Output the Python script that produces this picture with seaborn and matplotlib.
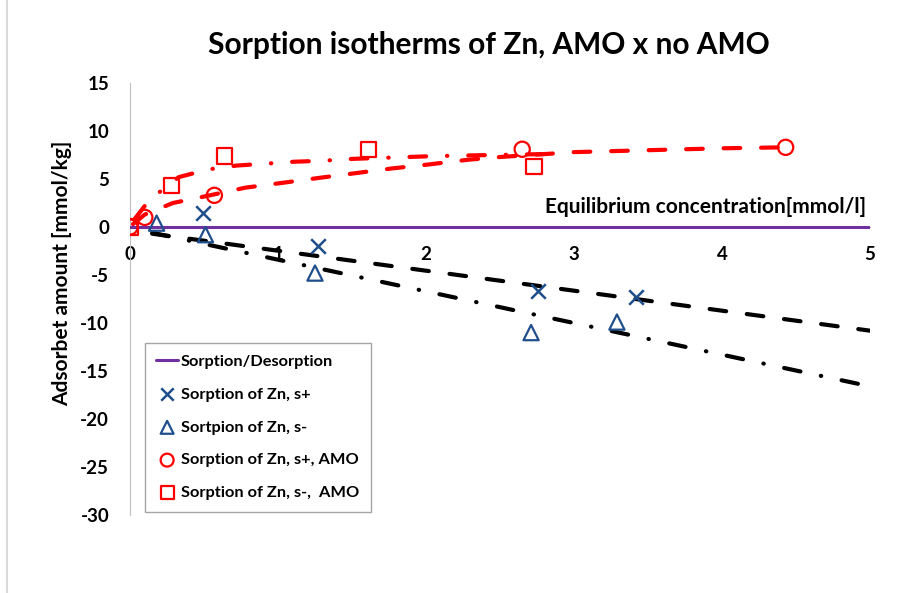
import matplotlib
matplotlib.use('Agg')
import matplotlib.pyplot as plt
from matplotlib.lines import Line2D
from matplotlib.collections import PathCollection
import seaborn as sns

# Datos
cruz_x = [0.49, 1.27, 2.76, 3.42]
cruz_y = [1.5, -2.0, -6.7, -7.3]

tri_x = [0.18, 0.51, 1.25, 2.71, 3.29]
tri_y = [0.4, -0.8, -4.8, -11.0, -9.9]

circ_x = [0.0, 0.10, 0.57, 2.65, 4.43]
circ_y = [0.0, 1.0, 3.3, 8.1, 8.3]

cuad_x = [0.0, 0.28, 0.64, 1.61, 2.73]
cuad_y = [0.0, 4.3, 7.4, 8.1, 6.3]

# Lineas de tendencia
tend_cruz_x = [0.15, 5.0]
tend_cruz_y = [-0.7, -10.8]
tend_tri_x = [0.15, 5.0]
tend_tri_y = [-0.6, -16.6]
tend_circ_x = [0.02, 0.10, 0.29, 0.54, 0.78, 1.03, 1.27, 1.52, 1.77, 2.01, 2.28, 2.51, 3.0, 3.5, 4.0, 4.43]
tend_circ_y = [0.3, 1.3, 2.5, 3.3, 4.1, 4.6, 5.1, 5.6, 6.1, 6.5, 7.0, 7.3, 7.8, 8.0, 8.2, 8.3]
tend_cuad_x = [0.03, 0.10, 0.18, 0.33, 0.53, 0.72, 0.92, 1.11, 1.30, 1.51, 1.70, 1.89, 2.09, 2.45, 2.82]
tend_cuad_y = [0.8, 2.2, 3.4, 5.2, 6.0, 6.4, 6.6, 6.8, 6.9, 7.1, 7.2, 7.3, 7.4, 7.5, 7.6]

base_x = [0, 5]
base_y = [0, 0]

x_ticks = [0, 1, 2, 3, 4, 5]
y_ticks = [15, 10, 5, 0, -5, -10, -15, -20, -25, -30]

sns.set_style('white')
plt.rcParams['font.family'] = ['Lato', 'DejaVu Sans']
plt.rcParams['font.weight'] = 'bold'
plt.rcParams['text.color'] = 'black'
plt.rcParams['xtick.color'] = 'black'
plt.rcParams['ytick.color'] = 'black'
plt.rcParams['axes.unicode_minus'] = False

azul = '#1F4E8C'
rojo = '#FF0000'
morado = '#7030A0'
gris = '#BFBFBF'

fig = plt.figure(figsize=(9.04, 5.93), dpi=100)
ax = fig.add_axes([130 / 904, 1 - 515 / 593, 740 / 904, 432 / 593])

# Linea base
sns.lineplot(x=base_x, y=base_y, ax=ax, color=morado, lw=2.2, zorder=3)

# Tendencias
estilo_guion = (0, (4, 5))
estilo_punto = (0, (4, 5, 0.1, 5))
sns.lineplot(x=tend_cruz_x, y=tend_cruz_y, ax=ax, color='black', lw=3,
             linestyle=estilo_guion, dash_capstyle='round', zorder=2)
sns.lineplot(x=tend_tri_x, y=tend_tri_y, ax=ax, color='black', lw=3,
             linestyle=estilo_punto, dash_capstyle='round', zorder=2)
sns.lineplot(x=tend_circ_x, y=tend_circ_y, ax=ax, color=rojo, lw=3, sort=False,
             linestyle=estilo_guion, dash_capstyle='round', zorder=2)
sns.lineplot(x=tend_cuad_x, y=tend_cuad_y, ax=ax, color=rojo, lw=3, sort=False,
             linestyle=estilo_punto, dash_capstyle='round', zorder=2)

# Puntos
sns.scatterplot(x=cruz_x, y=cruz_y, ax=ax, marker='x', s=110, color=azul,
                linewidth=1.8, zorder=4)
sns.scatterplot(x=tri_x, y=tri_y, ax=ax, marker='^', s=120, facecolors='none',
                edgecolor=azul, linewidth=1.6, zorder=4)
sns.scatterplot(x=circ_x, y=circ_y, ax=ax, marker='o', s=120, facecolors='none',
                edgecolor=rojo, linewidth=1.6, zorder=4)
sns.scatterplot(x=cuad_x, y=cuad_y, ax=ax, marker='s', s=120, facecolors='none',
                edgecolor=rojo, linewidth=1.6, zorder=4)

# Ejes (posicion del eje x en y=0 antes de fijar los ticks)
ax.spines['top'].set_visible(False)
ax.spines['right'].set_visible(False)
ax.spines['bottom'].set_position(('data', 0))
ax.spines['bottom'].set_color(gris)
ax.spines['left'].set_color(gris)

ax.set_xlim(0, 5)
ax.set_ylim(-30, 15)
ax.set_xticks(x_ticks)
ax.set_yticks(y_ticks)
ax.tick_params(axis='both', direction='out', length=5, color=gris,
               labelcolor='black', labelsize=13.5)
ax.tick_params(axis='x', pad=9)
ax.tick_params(axis='y', pad=10)
for lab in ax.get_xticklabels() + ax.get_yticklabels():
    lab.set_fontweight('bold')

ax.text(0.995, 0.713, 'Equilibrium concentration[mmol/l]', transform=ax.transAxes,
        ha='right', va='center', fontsize=15, fontweight='bold')
fig.text(62 / 904, 1 - 273 / 593, 'Adsorbet amount [mmol/kg]', rotation=90,
         ha='center', va='center', fontsize=15, fontweight='bold')
fig.text(489 / 904, 1 - 45 / 593, 'Sorption isotherms of Zn, AMO x no AMO',
         ha='center', va='center', fontsize=21.5, fontweight='bold')

# Leyenda
linea_base = ax.get_lines()[0]
puntos = [c for c in ax.collections if isinstance(c, PathCollection)]
handles = [linea_base] + puntos[:4]
labels = ['Sorption/Desorption', 'Sorption of Zn, s+', 'Sortpion of Zn, s-',
          'Sorption of Zn, s+, AMO', 'Sorption of Zn, s-,  AMO']
leg = ax.legend(handles, labels, loc='upper left',
                bbox_to_anchor=(145 / 904, 1 - 343 / 593), bbox_transform=fig.transFigure,
                prop={'weight': 'bold', 'size': 11.8}, frameon=True,
                fancybox=False, framealpha=1, edgecolor='#A6A6A6',
                handlelength=1.3, handletextpad=0.2, labelspacing=1.12,
                borderpad=0.7, borderaxespad=0, scatterpoints=1, markerscale=0.85)
leg.get_frame().set_linewidth(1.0)

# Borde del area del grafico
fig.add_artist(Line2D([7 / 904, 7 / 904], [0, 1], transform=fig.transFigure,
                      color='#D9D9D9', lw=1.5))

fig.savefig('out.png', dpi=100)
